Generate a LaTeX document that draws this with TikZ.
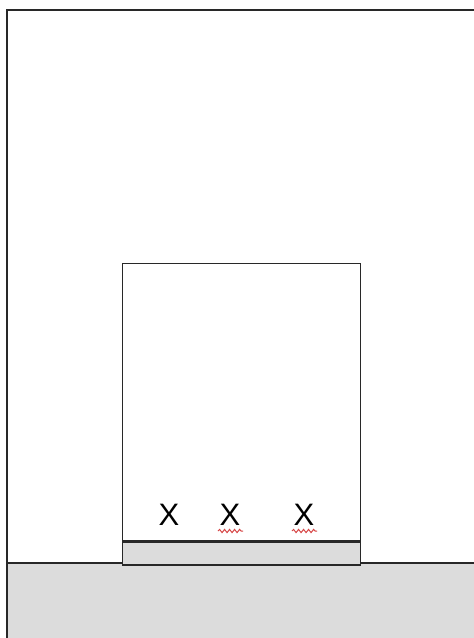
\documentclass[tikz,border=0pt]{standalone}
\usepackage{fontspec}
\setmainfont{Liberation Sans}
\usepackage{tikz}
\usetikzlibrary{positioning,decorations.pathmorphing}
\definecolor{edge}{RGB}{40,40,40}
\definecolor{base}{RGB}{220,220,220}
\definecolor{spell}{RGB}{215,70,70}

\begin{document}
\begin{tikzpicture}[x=1pt,y=-1pt,
  wall/.style={draw=edge,line width=1.4pt},
  slab/.style={wall,fill=base},
  xmark/.style={font=\fontsize{31}{31}\selectfont,anchor=base,inner sep=0pt},
  squig/.style={spell,line width=1pt,decorate,
                decoration={snake,segment length=5pt,amplitude=1.6pt}}]
  \clip (0,0) rectangle (474,638);
  \fill[white] (0,0) rectangle (474,638);
  % ground and outer frame
  \draw[slab] (7,563) rectangle (490,660);
  \draw[wall] (7,660) -- (7,10) -- (490,10);
  % inner box with its floor strip
  \node[wall,minimum width=238pt,minimum height=277pt,inner sep=0pt,anchor=north west] (box) at (122,263) {};
  \node[slab,minimum width=238pt,minimum height=23pt,inner sep=0pt,anchor=north west] (strip) at (box.south west) {};
  % the three marks
  \node[xmark] (x1) at (169,525) {X};
  \node[xmark] (x2) at (230,525) {X};
  \node[xmark] (x3) at (304,525) {X};
  \draw[squig] ([xshift=-12pt,yshift=-6pt]x2.base) -- ([xshift=13pt,yshift=-6pt]x2.base);
  \draw[squig] ([xshift=-12pt,yshift=-6pt]x3.base) -- ([xshift=13pt,yshift=-6pt]x3.base);
\end{tikzpicture}
\end{document}
